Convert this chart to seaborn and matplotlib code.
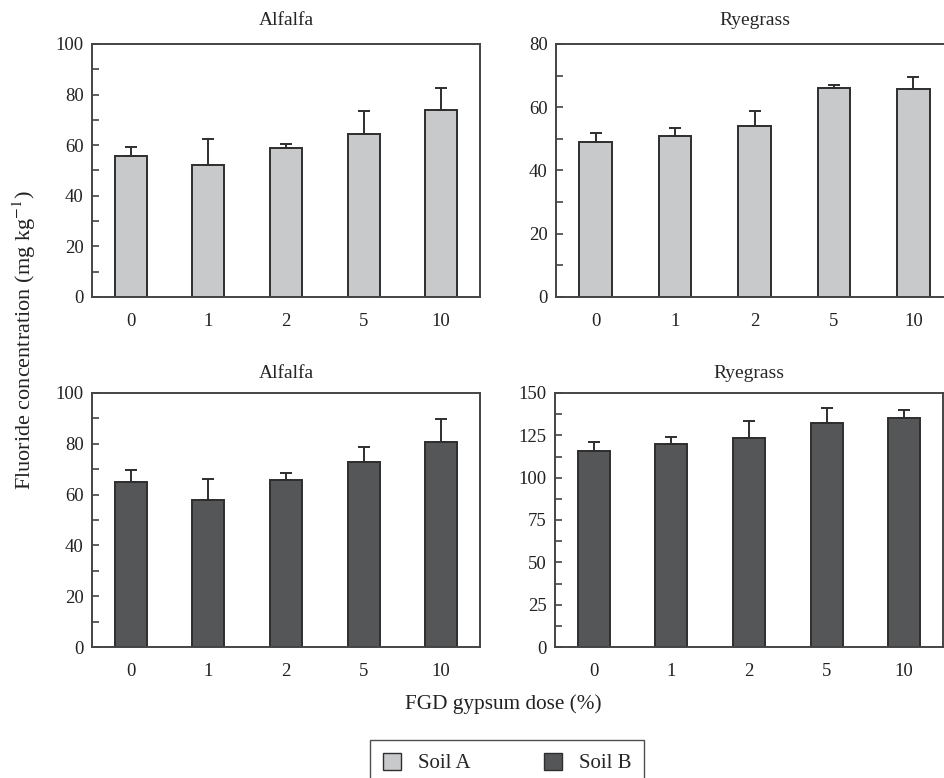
import matplotlib
matplotlib.use("Agg")
import matplotlib.pyplot as plt
import seaborn as sns
import pandas as pd
import numpy as np
from matplotlib.patches import Patch
from matplotlib.ticker import MultipleLocator

sns.set_theme(style="white")
plt.rcParams['font.family'] = ['Liberation Serif', 'DejaVu Serif']
plt.rcParams['mathtext.fontset'] = 'stix'

doses = ["0", "1", "2", "5", "10"]

alfalfa_A = [55.7, 52.0, 58.8, 64.3, 73.9]
alfalfa_A_err = [3.6, 10.6, 1.8, 9.1, 8.6]
ryegrass_A = [49.1, 51.0, 54.0, 66.1, 65.7]
ryegrass_A_err = [2.9, 2.4, 4.9, 1.0, 3.8]
alfalfa_B = [65.0, 57.8, 65.6, 72.8, 80.7]
alfalfa_B_err = [4.8, 8.5, 2.9, 6.1, 9.1]
ryegrass_B = [115.7, 120.0, 123.6, 132.4, 135.2]
ryegrass_B_err = [5.3, 4.3, 9.9, 9.0, 4.5]

color_A = "#c8c9cb"
color_B = "#555658"
edge = "#2e2e2e"

W, H = 944, 778
fig = plt.figure(figsize=(W / 100, H / 100), dpi=100)

def ax_at(l, t, r, b):
    return fig.add_axes([l / W, 1 - b / H, (r - l) / W, (b - t) / H])

panels = [
    (ax_at(92, 44, 480, 297), "Alfalfa", alfalfa_A, alfalfa_A_err, color_A, 100, 20, 10, 14),
    (ax_at(556, 44, 953, 297), "Ryegrass", ryegrass_A, ryegrass_A_err, color_A, 80, 20, 10, 14),
    (ax_at(92, 393, 480, 647), "Alfalfa", alfalfa_B, alfalfa_B_err, color_B, 100, 20, 10, 10.5),
    (ax_at(555, 393, 943, 647), "Ryegrass", ryegrass_B, ryegrass_B_err, color_B, 150, 25, 12.5, 10.5),
]

for ax, title, vals, errs, col, ymax, major, minor, tpad in panels:
    df = pd.DataFrame({"dose": doses, "value": vals})
    sns.barplot(data=df, x="dose", y="value", ax=ax, color=col, width=0.41,
                edgecolor=edge, linewidth=1.4, errorbar=None, saturation=1)
    x = np.arange(len(doses))
    ax.errorbar(x, vals, yerr=[np.zeros(len(vals)), errs], fmt="none",
                ecolor=edge, elinewidth=1.4, capsize=4.3, capthick=1.4)
    ax.set_xlim(-0.5, len(doses) - 0.5)
    ax.set_ylim(0, ymax)
    ax.yaxis.set_major_locator(MultipleLocator(major))
    ax.yaxis.set_minor_locator(MultipleLocator(minor))
    ax.tick_params(axis="y", which="both", direction="in", length=5, width=1.2,
                   color="#444444", labelsize=13.5, left=True, pad=6)
    ax.tick_params(axis="x", length=0, labelsize=13.5, pad=11.5)
    ax.set_xlabel("")
    ax.set_ylabel("")
    ax.set_title(title, fontsize=14, pad=tpad)
    for s in ax.spines.values():
        s.set_color("#444444")
        s.set_linewidth(1.4)
    ax.tick_params(labelcolor="#222222")

fig.text(24 / W, 1 - 340 / H, "Fluoride concentration (mg kg$^{-1}$)",
         rotation=90, ha="center", va="center", fontsize=16, color="#222222")
fig.text(503 / W, 1 - 704 / H, "FGD gypsum dose (%)", ha="center", va="center",
         fontsize=15.3, color="#222222")

handles = [Patch(facecolor=color_A, edgecolor=edge, label="Soil A"),
           Patch(facecolor=color_B, edgecolor=edge, label="Soil B")]
leg = fig.legend(handles=handles, loc="center", bbox_to_anchor=(507 / W, 1 - 763 / H),
                 ncol=2, frameon=True, fancybox=False, fontsize=15,
                 handlelength=0.9, handleheight=0.9, columnspacing=3.5,
                 handletextpad=0.8, borderpad=0.6, borderaxespad=0, edgecolor="#222222")
leg.get_frame().set_linewidth(1.0)

fig.savefig("out.png", dpi=100)
